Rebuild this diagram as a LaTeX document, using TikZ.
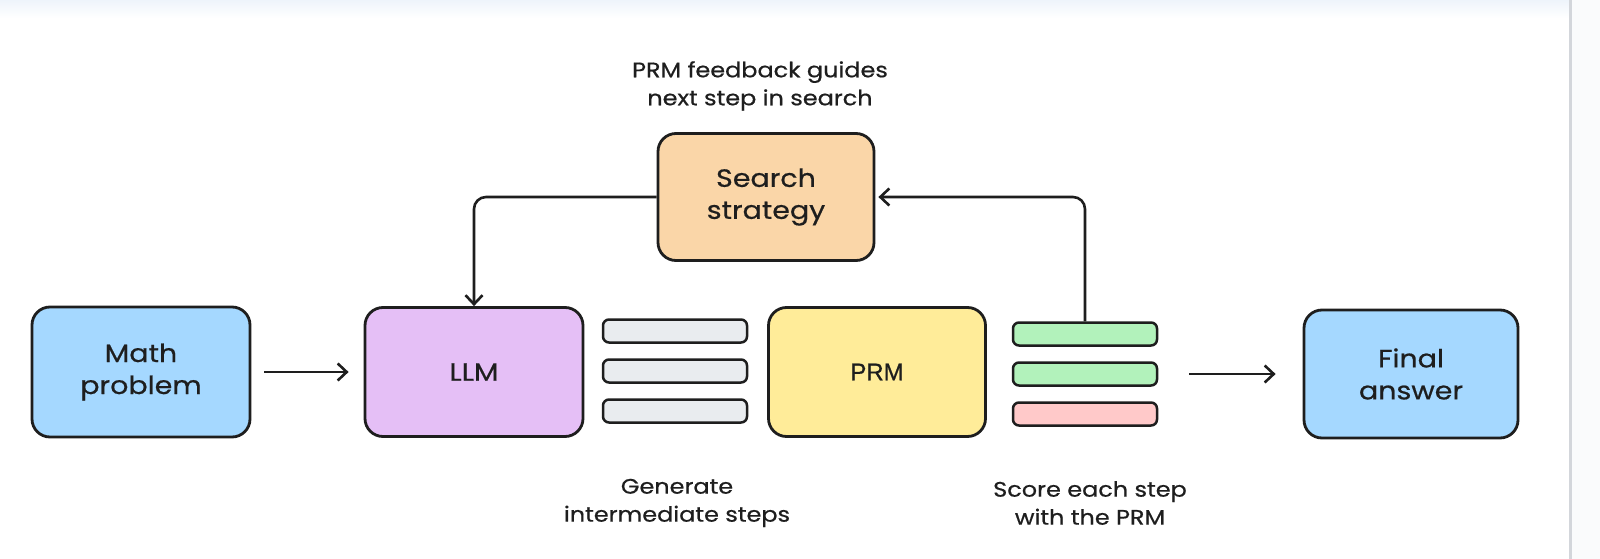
\documentclass[tikz,border=0pt]{standalone}
\usepackage{fontspec}
\setmainfont{Poppins}[FakeStretch=1.14,FakeBold=0.6]
\newfontfamily\prmfont{Liberation Sans}[FakeBold=0.8]
\usetikzlibrary{arrows.meta,calc}
\definecolor{ink}{HTML}{1E1E1E}
\definecolor{cblue}{HTML}{A5D8FF}
\definecolor{cpurple}{HTML}{E5BFF6}
\definecolor{corange}{HTML}{FAD6A8}
\definecolor{cyellow}{HTML}{FFEC99}
\definecolor{cgray}{HTML}{E9ECEF}
\definecolor{cgreen}{HTML}{B2F2BB}
\definecolor{cred}{HTML}{FFC9C9}
\definecolor{bandblue}{HTML}{EEF4FB}
\definecolor{sideline}{HTML}{D3D6DB}
\definecolor{sidefill}{HTML}{FAFBFC}
\begin{document}
\begin{tikzpicture}[x=1pt,y=-1pt,
  box/.style={draw=ink, line width=2.8pt, rounded corners=18pt, inner sep=0pt,
    align=center, font=\fontsize{25}{32}\selectfont, text=ink},
  bar/.style={draw=ink, line width=2.5pt, rounded corners=6pt,
    minimum width=144pt, minimum height=23pt, inner sep=0pt},
  conn/.style={draw=ink, line width=2.6pt, rounded corners=12pt,
    -{Straight Barb[length=9pt,width=17pt,line width=2.6pt]}},
  lbl/.style={align=center, font=\fontsize{21}{28}\selectfont, text=ink}]
\useasboundingbox (0,0) rectangle (1600,559);
% background
\fill[white] (0,0) rectangle (1600,559);
\shade[top color=bandblue, bottom color=white] (0,0) rectangle (1570,18);
\fill[sidefill] (1571,0) rectangle (1600,559);
\draw[sideline, line width=3pt] (1570,0) -- (1570,559);

% main boxes
\node[box, fill=cblue, minimum width=218pt, minimum height=130pt] (math) at (141,372) {Math\\problem};
\node[box, fill=cpurple, minimum width=218pt, minimum height=129pt] (llm) at (474,372) {LLM};
\node[box, fill=cyellow, minimum width=217pt, minimum height=129pt, font=\prmfont\fontsize{24}{32}\selectfont] (prm) at (877,372) {PRM};
\node[box, fill=cblue, minimum width=214pt, minimum height=128pt] (final) at (1411,374) {Final\\answer};
\node[box, fill=corange, minimum width=216pt, minimum height=127pt] (search) at (766,197) {Search\\strategy};

% step bars
\node[bar, fill=cgray] (s1) at (675,331) {};
\node[bar, fill=cgray] (s2) at (675,371) {};
\node[bar, fill=cgray] (s3) at (675,411) {};
\node[bar, fill=cgreen] (g1) at (1085,334) {};
\node[bar, fill=cgreen] (g2) at (1085,374) {};
\node[bar, fill=cred] (g3) at (1085,414) {};

% labels
\node[lbl] (ltop) at (760,86) {PRM feedback guides\\next step in search};
\node[lbl] (lgen) at (677,503) {Generate\\intermediate steps};
\node[lbl] (lscore) at (1090,503) {Score each step\\with the PRM};

% connectors
\draw[conn] ($(math.east)+(13,0)$) -- ($(llm.west)+(-15,0)$);
\draw[conn] ($(g2.east)+(31,0)$) -- ($(final.west)+(-27,0)$);
\draw[conn] (search.west) -| (llm.north);
\draw[conn, shorten >=3pt] (g1.north) |- (search.east);
\end{tikzpicture}
\end{document}
